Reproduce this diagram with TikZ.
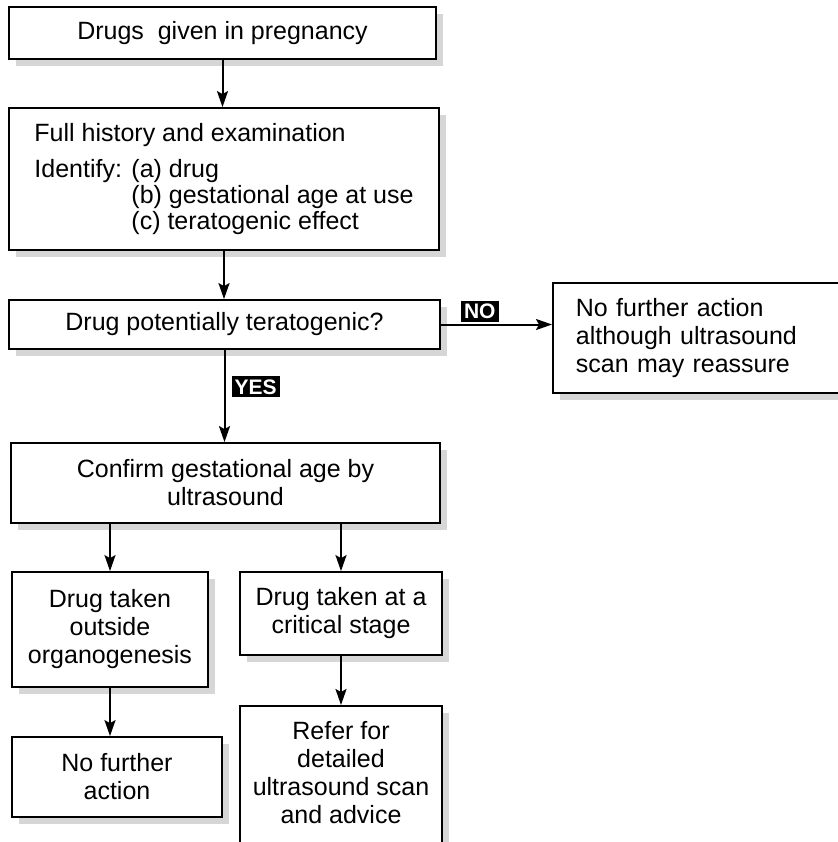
\documentclass[tikz,border=0pt]{standalone}
\usepackage{fontspec}
\setmainfont{Liberation Sans}
\usetikzlibrary{arrows.meta,shadows}

\begin{document}
\begin{tikzpicture}[
  x=0.5pt, y=-0.5pt,
  >={Stealth[length=8pt,width=5.5pt,inset=1.5pt]},
  box/.style={draw,line width=0.9pt,fill=white,align=center,inner sep=0pt,
    font=\fontsize{12.5}{14}\selectfont,
    drop shadow={shadow xshift=3.5pt,shadow yshift=-3.5pt,fill=black!16,opacity=1}},
  flow/.style={->,line width=1pt},
  tag/.style={fill=black,text=white,font=\fontsize{10.5}{11}\selectfont\bfseries,
    inner xsep=1.5pt,inner ysep=1.5pt},
]
\useasboundingbox (0,0) rectangle (837,842);

% ============================ main column ============================
\node[box,minimum width=213.5pt,minimum height=26pt] (start) at (222.5,33)
  {Drugs~ given in pregnancy};

\node[box,minimum width=215pt,minimum height=71pt,align=left,
  font=\fontsize{12.5}{13}\selectfont] (history) at (224,179)
  {Full history and examination\\[5pt]
   \makebox[48.5pt][l]{Identify:}(a) drug\\
   \hspace*{48.5pt}(b) gestational age at use\\
   \hspace*{48.5pt}(c) teratogenic effect};

\node[box,minimum width=215.5pt,minimum height=24.5pt] (teratogenic) at (224.5,324.5)
  {Drug potentially teratogenic?};

% NO branch (runs off the right edge)
\node[box,anchor=west,minimum width=154pt,minimum height=55pt,text width=131pt,
  inner xsep=11.5pt,align=left] (noaction) at (552,338)
  {No further action\\although ultrasound\\scan may reassure};

\node[box,minimum width=214.5pt,minimum height=40pt] (confirm) at (225.5,483)
  {Confirm gestational age by\\ultrasound};

% ============================ two lower branches ============================
\node[box,minimum width=98pt,minimum height=57.5pt] (outside) at (110,629.5)
  {Drug taken\\outside\\organogenesis};
\node[box,minimum width=101pt,minimum height=41.5pt] (critical) at (341,613.5)
  {Drug taken at a\\critical stage};

\node[box,minimum width=105pt,minimum height=40pt] (nofurther) at (117,777)
  {No further\\action};
% bottom edge falls below the page
\node[box,anchor=north,minimum width=101pt,inner ysep=7.5pt,text depth=60pt] (refer) at (341,705)
  {Refer for\\detailed\\ultrasound scan\\and advice};

% connectors
\draw[flow] (start.south) -- (start.south |- history.north);
\draw[flow] (history.south) -- (history.south |- teratogenic.north);
\draw[flow] (teratogenic.east) -- node[tag,pos=0.35,above=1pt] {NO} (teratogenic.east -| noaction.west);
\draw[flow] (teratogenic.south) -- node[tag,pos=0.4,right=3pt] {YES} (teratogenic.south |- confirm.north);
\draw[flow] (confirm.south -| outside.north) -- (outside.north);
\draw[flow] (confirm.south -| critical.north) -- (critical.north);
\draw[flow] (outside.south) -- (outside.south |- nofurther.north);
\draw[flow] (critical.south) -- (refer.north);

\end{tikzpicture}
\end{document}
